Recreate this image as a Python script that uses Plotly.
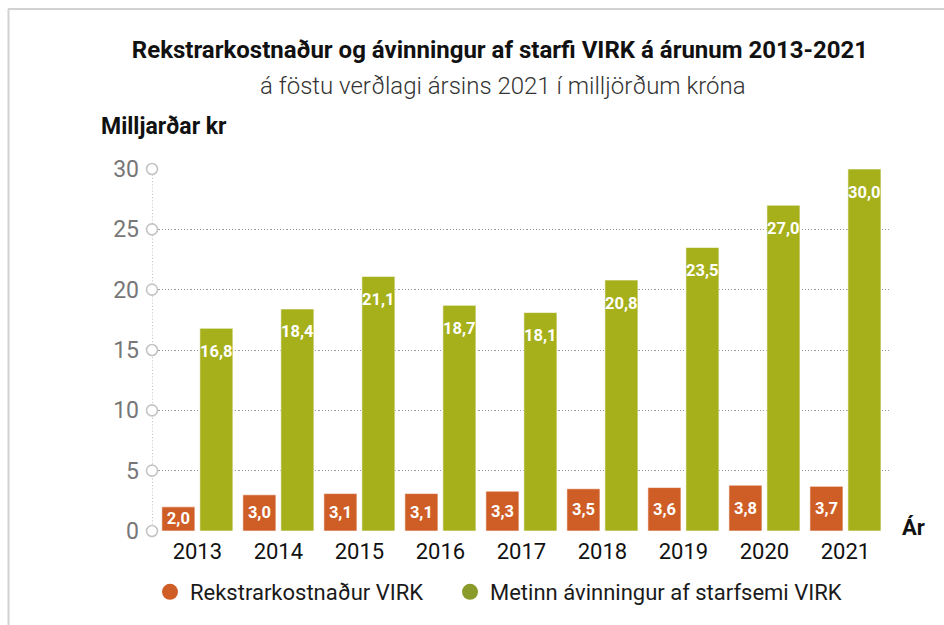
import plotly.graph_objects as go

years = ["2013", "2014", "2015", "2016", "2017", "2018", "2019", "2020", "2021"]
cost = [2.0, 3.0, 3.1, 3.1, 3.3, 3.5, 3.6, 3.8, 3.7]
gain = [16.8, 18.4, 21.1, 18.7, 18.1, 20.8, 23.5, 27.0, 30.0]
y_ticks = [0, 5, 10, 15, 20, 25, 30]

name_cost = "Rekstrarkostnaður VIRK"
name_gain = "Metinn ávinningur af starfsemi VIRK"

ORANGE = "#CF5D26"
GREEN = "#A6B01B"
LEG_GREEN = "#8A9B2C"

def fmt(v):
    return f"{v:.1f}".replace(".", ",")

MAIN_FONT = "Roboto, Liberation Sans, Arial, sans-serif"
BAR_FONT = dict(family=MAIN_FONT, size=16.5, color="white", weight="bold")

fig = go.Figure()

fig.add_trace(go.Bar(
    x=years, y=cost, name=name_cost, showlegend=False,
    marker=dict(color=ORANGE, line=dict(color="rgba(255,255,255,0.6)", width=1)),
    text=[fmt(v) for v in cost], textposition="inside", insidetextanchor="middle",
    textangle=0, constraintext="none", textfont=BAR_FONT, hoverinfo="x+y",
))
fig.add_trace(go.Bar(
    x=years, y=gain, name=name_gain, showlegend=False,
    marker=dict(color=GREEN, line=dict(color="rgba(255,255,255,0.6)", width=1)),
    textposition="none", hoverinfo="x+y",
))

# value labels for the green bars, placed a little below each bar top
# (category index used as x position on the category axis)
for i, v in enumerate(gain):
    fig.add_annotation(x=i, y=v, xref="x", yref="y", text=fmt(v), showarrow=False,
                       xshift=19, yshift=-23, xanchor="center", yanchor="middle",
                       font=BAR_FONT)

# y-axis line with circle markers at ticks
fig.add_trace(go.Scatter(
    x=[0] * len(y_ticks), y=y_ticks, xaxis="x2", yaxis="y",
    mode="lines+markers", showlegend=False, hoverinfo="skip", cliponaxis=False,
    line=dict(color="#a8a8a8", width=1.2, dash="1.2px,2px"),
    marker=dict(symbol="circle", size=11, color="white", line=dict(color="#c4c4c4", width=1.6)),
))

# legend entries (circles)
fig.add_trace(go.Scatter(x=[None], y=[None], xaxis="x2", mode="markers", name=name_cost,
                         legend="legend", marker=dict(symbol="circle", size=16, color=ORANGE)))
fig.add_trace(go.Scatter(x=[None], y=[None], xaxis="x2", mode="markers", name=name_gain,
                         legend="legend2", marker=dict(symbol="circle", size=16, color=LEG_GREEN)))

L, R, T, B = 152, 54, 169, 94
W, H = 944, 625
pw, ph = W - L - R, H - T - B

def px_x(px):
    return (px - L) / pw

def px_y(py):
    return (H - B - py) / ph

LEG = dict(orientation="h", xanchor="left", yanchor="middle",
           font=dict(size=22, color="#1a1a1a"), itemclick=False, itemdoubleclick=False,
           bgcolor="rgba(0,0,0,0)")

fig.update_layout(
    width=W, height=H,
    margin=dict(l=L, r=R, t=T, b=B),
    paper_bgcolor="white", plot_bgcolor="white",
    barmode="group", bargap=0.062, bargroupgap=0.13,
    font=dict(family=MAIN_FONT, color="#111"),
    title=dict(text="<b>Rekstrarkostnaður og ávinningur af starfi VIRK á árunum 2013-2021</b>",
               x=px_x(500), xanchor="center", xref="paper", y=1 - 50 / H, yanchor="middle",
               font=dict(family=MAIN_FONT, size=24, color="#111")),
    xaxis=dict(type="category", range=[-0.56, 8.55], showgrid=False, showline=False,
               zeroline=False, ticks="", tickfont=dict(size=22, color="#111"),
               ticklabelstandoff=5),
    xaxis2=dict(overlaying="x", range=[0, 1], visible=False, fixedrange=True),
    yaxis=dict(range=[0, 30], tickvals=y_ticks, showline=False, zeroline=False,
               showgrid=True, gridcolor="#9a9a9a", griddash="1.2px,2px", gridwidth=1.2,
               ticks="", tickfont=dict(size=23, color="#777"), ticklabelstandoff=12),
    legend=dict(LEG, x=px_x(150), y=px_y(592)),
    legend2=dict(LEG, x=px_x(450), y=px_y(592)),
    showlegend=True,
)

fig.add_annotation(text="á föstu verðlagi ársins 2021 í milljörðum króna",
                   xref="paper", yref="paper", x=px_x(503), y=px_y(86), xanchor="center",
                   yanchor="middle", showarrow=False,
                   font=dict(family=MAIN_FONT, size=24, color="#333", weight=300))
fig.add_annotation(text="<b>Milljarðar kr</b>", xref="paper", yref="paper",
                   x=px_x(99), y=px_y(127), xanchor="left", yanchor="middle", showarrow=False,
                   font=dict(family=MAIN_FONT, size=23, color="#111"))
fig.add_annotation(text="<b>Ár</b>", xref="paper", yref="y", x=px_x(900), y=0,
                   xanchor="left", yanchor="middle", yshift=4, showarrow=False,
                   font=dict(family=MAIN_FONT, size=22, color="#111"))

# frame lines (top and left)
fig.add_shape(type="line", xref="paper", yref="paper", x0=px_x(8), x1=px_x(W + 2),
              y0=px_y(9), y1=px_y(9), line=dict(color="#d2d2d2", width=2), layer="above")
fig.add_shape(type="line", xref="paper", yref="paper", x0=px_x(8.5), x1=px_x(8.5),
              y0=px_y(9), y1=px_y(H + 2), line=dict(color="#d2d2d2", width=2), layer="above")

fig.write_html("out.html")
